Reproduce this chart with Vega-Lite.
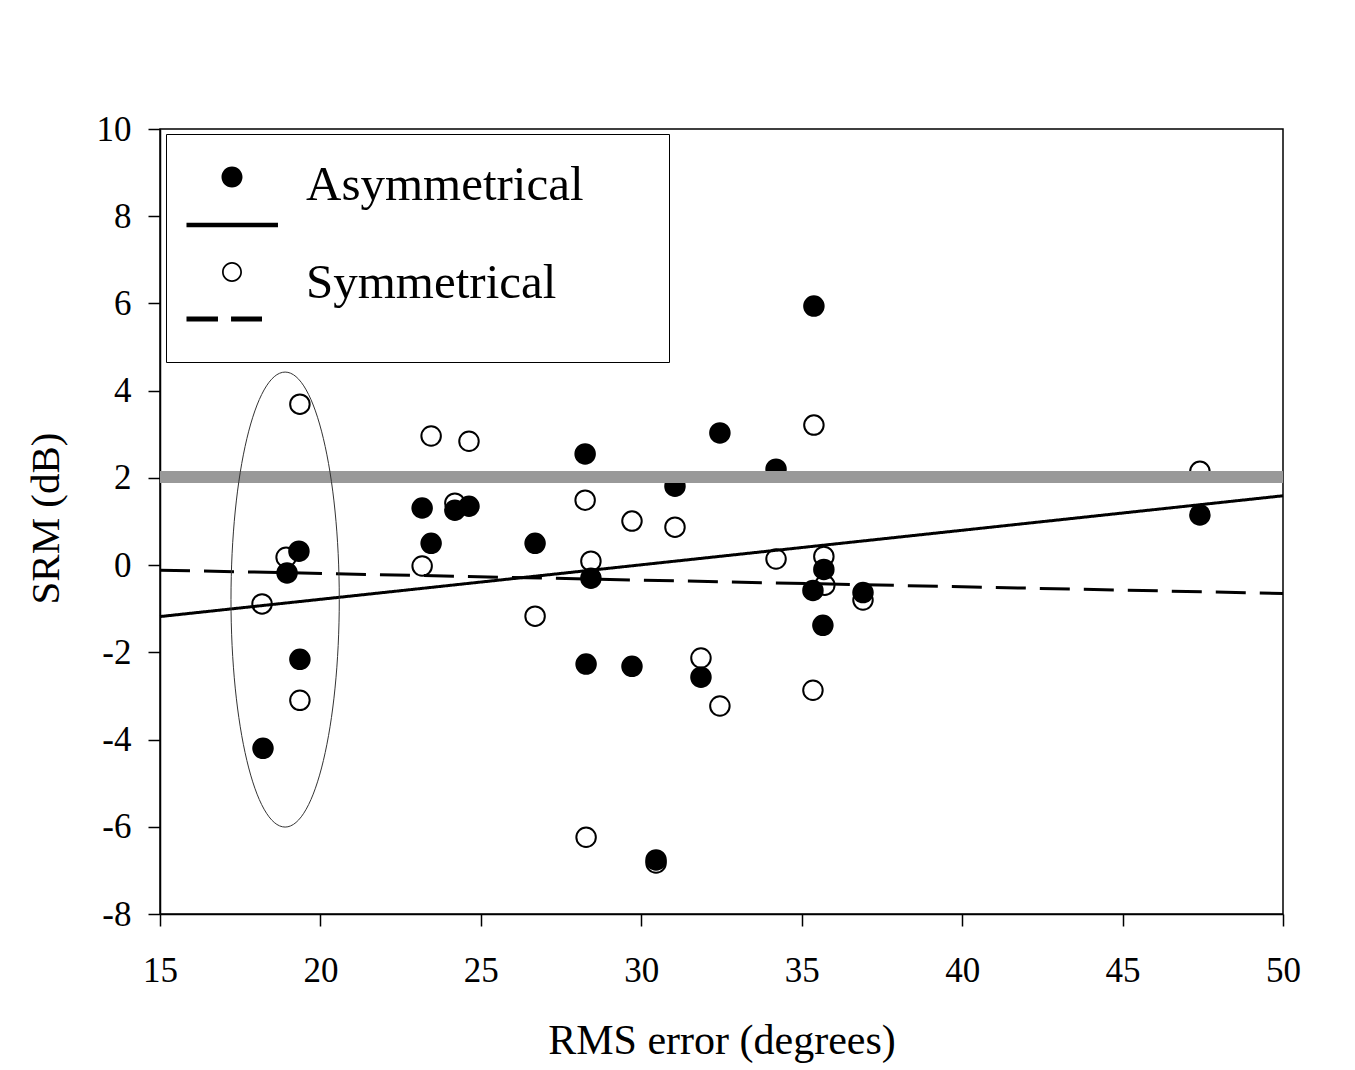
{
  "$schema": "https://vega.github.io/schema/vega-lite/v6.json",
  "width": 1123,
  "height": 785,
  "autosize": {"type": "none"},
  "padding": {"left": 160, "top": 129, "right": 72, "bottom": 156},
  "background": "white",
  "config": {
    "font": "Liberation Serif",
    "view": {"stroke": "black", "strokeWidth": 1.5},
    "axis": {
      "grid": false,
      "domainColor": "black",
      "domainWidth": 1.5,
      "tickColor": "black",
      "tickWidth": 1.5,
      "tickSize": 12,
      "labelFont": "Liberation Serif",
      "labelFontSize": 35,
      "labelColor": "black",
      "labelFlush": false,
      "labelOverlap": false,
      "titleFont": "Liberation Serif",
      "titleFontWeight": "normal",
      "titleColor": "black"
    }
  },
  "datasets": {
    "pts": [
      {"rms": 18.18, "srm": -0.89, "group": "Symmetrical"},
      {"rms": 18.93, "srm": 0.18, "group": "Symmetrical"},
      {"rms": 19.36, "srm": 3.69, "group": "Symmetrical"},
      {"rms": 19.36, "srm": -3.1, "group": "Symmetrical"},
      {"rms": 23.17, "srm": -0.02, "group": "Symmetrical"},
      {"rms": 23.45, "srm": 2.96, "group": "Symmetrical"},
      {"rms": 24.19, "srm": 1.42, "group": "Symmetrical"},
      {"rms": 24.63, "srm": 2.84, "group": "Symmetrical"},
      {"rms": 26.69, "srm": -1.17, "group": "Symmetrical"},
      {"rms": 28.25, "srm": 1.49, "group": "Symmetrical"},
      {"rms": 28.28, "srm": -6.24, "group": "Symmetrical"},
      {"rms": 28.43, "srm": 0.09, "group": "Symmetrical"},
      {"rms": 29.71, "srm": 1.01, "group": "Symmetrical"},
      {"rms": 30.46, "srm": -6.83, "group": "Symmetrical"},
      {"rms": 31.05, "srm": 0.87, "group": "Symmetrical"},
      {"rms": 31.86, "srm": -2.13, "group": "Symmetrical"},
      {"rms": 32.45, "srm": -3.23, "group": "Symmetrical"},
      {"rms": 34.2, "srm": 0.14, "group": "Symmetrical"},
      {"rms": 35.38, "srm": 3.21, "group": "Symmetrical"},
      {"rms": 35.35, "srm": -2.87, "group": "Symmetrical"},
      {"rms": 35.69, "srm": 0.2, "group": "Symmetrical"},
      {"rms": 35.72, "srm": -0.46, "group": "Symmetrical"},
      {"rms": 36.91, "srm": -0.8, "group": "Symmetrical"},
      {"rms": 47.41, "srm": 2.15, "group": "Symmetrical"},
      {"rms": 18.21, "srm": -4.2, "group": "Asymmetrical"},
      {"rms": 18.96, "srm": -0.18, "group": "Asymmetrical"},
      {"rms": 19.33, "srm": 0.32, "group": "Asymmetrical"},
      {"rms": 19.36, "srm": -2.16, "group": "Asymmetrical"},
      {"rms": 23.17, "srm": 1.31, "group": "Asymmetrical"},
      {"rms": 23.45, "srm": 0.5, "group": "Asymmetrical"},
      {"rms": 24.19, "srm": 1.26, "group": "Asymmetrical"},
      {"rms": 24.63, "srm": 1.35, "group": "Asymmetrical"},
      {"rms": 26.69, "srm": 0.5, "group": "Asymmetrical"},
      {"rms": 28.25, "srm": 2.55, "group": "Asymmetrical"},
      {"rms": 28.28, "srm": -2.27, "group": "Asymmetrical"},
      {"rms": 28.43, "srm": -0.3, "group": "Asymmetrical"},
      {"rms": 29.71, "srm": -2.32, "group": "Asymmetrical"},
      {"rms": 30.46, "srm": -6.76, "group": "Asymmetrical"},
      {"rms": 31.05, "srm": 1.81, "group": "Asymmetrical"},
      {"rms": 31.86, "srm": -2.57, "group": "Asymmetrical"},
      {"rms": 32.45, "srm": 3.03, "group": "Asymmetrical"},
      {"rms": 34.2, "srm": 2.2, "group": "Asymmetrical"},
      {"rms": 35.38, "srm": 5.94, "group": "Asymmetrical"},
      {"rms": 35.35, "srm": -0.58, "group": "Asymmetrical"},
      {"rms": 35.69, "srm": -0.1, "group": "Asymmetrical"},
      {"rms": 35.66, "srm": -1.38, "group": "Asymmetrical"},
      {"rms": 36.91, "srm": -0.63, "group": "Asymmetrical"},
      {"rms": 47.41, "srm": 1.15, "group": "Asymmetrical"}
    ],
    "fits": [
      {"rms": 15, "srm": -1.18, "fit": "Asymmetrical"},
      {"rms": 50, "srm": 1.59, "fit": "Asymmetrical"},
      {"rms": 15, "srm": -0.115, "fit": "Symmetrical"},
      {"rms": 50, "srm": -0.65, "fit": "Symmetrical"}
    ],
    "cluster": [
      {"rms": 18.9, "srm": -0.79}
    ],
    "band": [
      {"srm": 2.02}
    ],
    "keys": [
      {"series": "Asymmetrical"},
      {"series": "Symmetrical"}
    ]
  },
  "layer": [
    {
      "data": {"name": "pts"},
      "mark": {"type": "point", "shape": "circle", "filled": true, "stroke": "black", "strokeWidth": 2, "size": 380, "opacity": 1},
      "encoding": {
        "x": {
          "field": "rms", "type": "quantitative",
          "scale": {"domain": [15, 50], "nice": false, "zero": false},
          "axis": {
            "title": "RMS error (degrees)",
            "values": [15, 20, 25, 30, 35, 40, 45, 50],
            "labelPadding": 27,
            "titleFontSize": 42,
            "titleBaseline": "alphabetic",
            "titleY": 139
          }
        },
        "y": {
          "field": "srm", "type": "quantitative",
          "scale": {"domain": [-8, 10], "nice": false, "zero": false},
          "axis": {
            "title": "SRM (dB)",
            "values": [-8, -6, -4, -2, 0, 2, 4, 6, 8, 10],
            "labelExpr": "'' + datum.value",
            "labelPadding": 17,
            "titleFontSize": 41,
            "titleBaseline": "alphabetic",
            "titleX": -102,
            "titleY": 389
          }
        },
        "fill": {
          "field": "group", "type": "nominal",
          "scale": {"range": ["black", "white"]},
          "legend": null
        }
      }
    },
    {
      "data": {"name": "fits"},
      "mark": {"type": "line", "color": "black", "strokeWidth": 3},
      "encoding": {
        "x": {"field": "rms", "type": "quantitative", "title": "RMS error (degrees)"},
        "y": {"field": "srm", "type": "quantitative", "title": "SRM (dB)"},
        "strokeDash": {
          "field": "fit", "type": "nominal",
          "scale": {"range": [[1, 0], [30, 14]]},
          "legend": null
        }
      }
    },
    {
      "data": {"name": "band"},
      "mark": {"type": "rule", "color": "#999999", "strokeWidth": 12},
      "encoding": {
        "y": {"field": "srm", "type": "quantitative", "title": "SRM (dB)"}
      }
    },
    {
      "data": {"name": "cluster"},
      "mark": {
        "type": "point",
        "shape": "M -0.238 0 A 0.238 1 0 1 0 0.238 0 A 0.238 1 0 1 0 -0.238 0 Z",
        "filled": false,
        "stroke": "#333333",
        "strokeWidth": 1,
        "size": 207025,
        "opacity": 1
      },
      "encoding": {
        "x": {"field": "rms", "type": "quantitative", "title": "RMS error (degrees)"},
        "y": {"field": "srm", "type": "quantitative", "title": "SRM (dB)"}
      }
    },
    {
      "data": {"name": "keys"},
      "mark": {"type": "point", "filled": true, "color": "black", "opacity": 1, "size": 0, "strokeWidth": 0},
      "encoding": {
        "shape": {
          "field": "series", "type": "nominal",
          "scale": {
            "domain": ["Asymmetrical", "Symmetrical"],
            "range": [
              "M -1 -1 M 8.71 0.958 M -0.219 -0.479 A 0.219 0.219 0 1 0 0.219 -0.479 A 0.219 0.219 0 1 0 -0.219 -0.479 Z M -0.948 0.475 L 0.958 0.475 L 0.958 0.567 L -0.948 0.567 Z",
              "M -1 -1 M 8.71 0.958 M -0.208 -0.542 A 0.208 0.208 0 1 0 0.208 -0.542 A 0.208 0.208 0 1 0 -0.208 -0.542 Z M -0.172 -0.542 A 0.172 0.172 0 1 1 0.172 -0.542 A 0.172 0.172 0 1 1 -0.172 -0.542 Z M -0.948 0.385 L -0.292 0.385 L -0.292 0.49 L -0.948 0.49 Z M -0.02 0.385 L 0.625 0.385 L 0.625 0.49 L -0.02 0.49 Z"
            ]
          },
          "legend": {
            "title": null,
            "orient": "none",
            "legendX": 6,
            "legendY": 5,
            "padding": 18,
            "strokeColor": "black",
            "fillColor": "white",
            "symbolSize": 9216,
            "symbolFillColor": "black",
            "symbolStrokeWidth": 0,
            "rowPadding": 4,
            "labelOffset": 26,
            "labelFont": "Liberation Serif",
            "labelFontSize": 49,
            "labelColor": "black",
            "labelBaseline": "alphabetic",
            "labelLimit": 600
          }
        }
      }
    }
  ]
}
